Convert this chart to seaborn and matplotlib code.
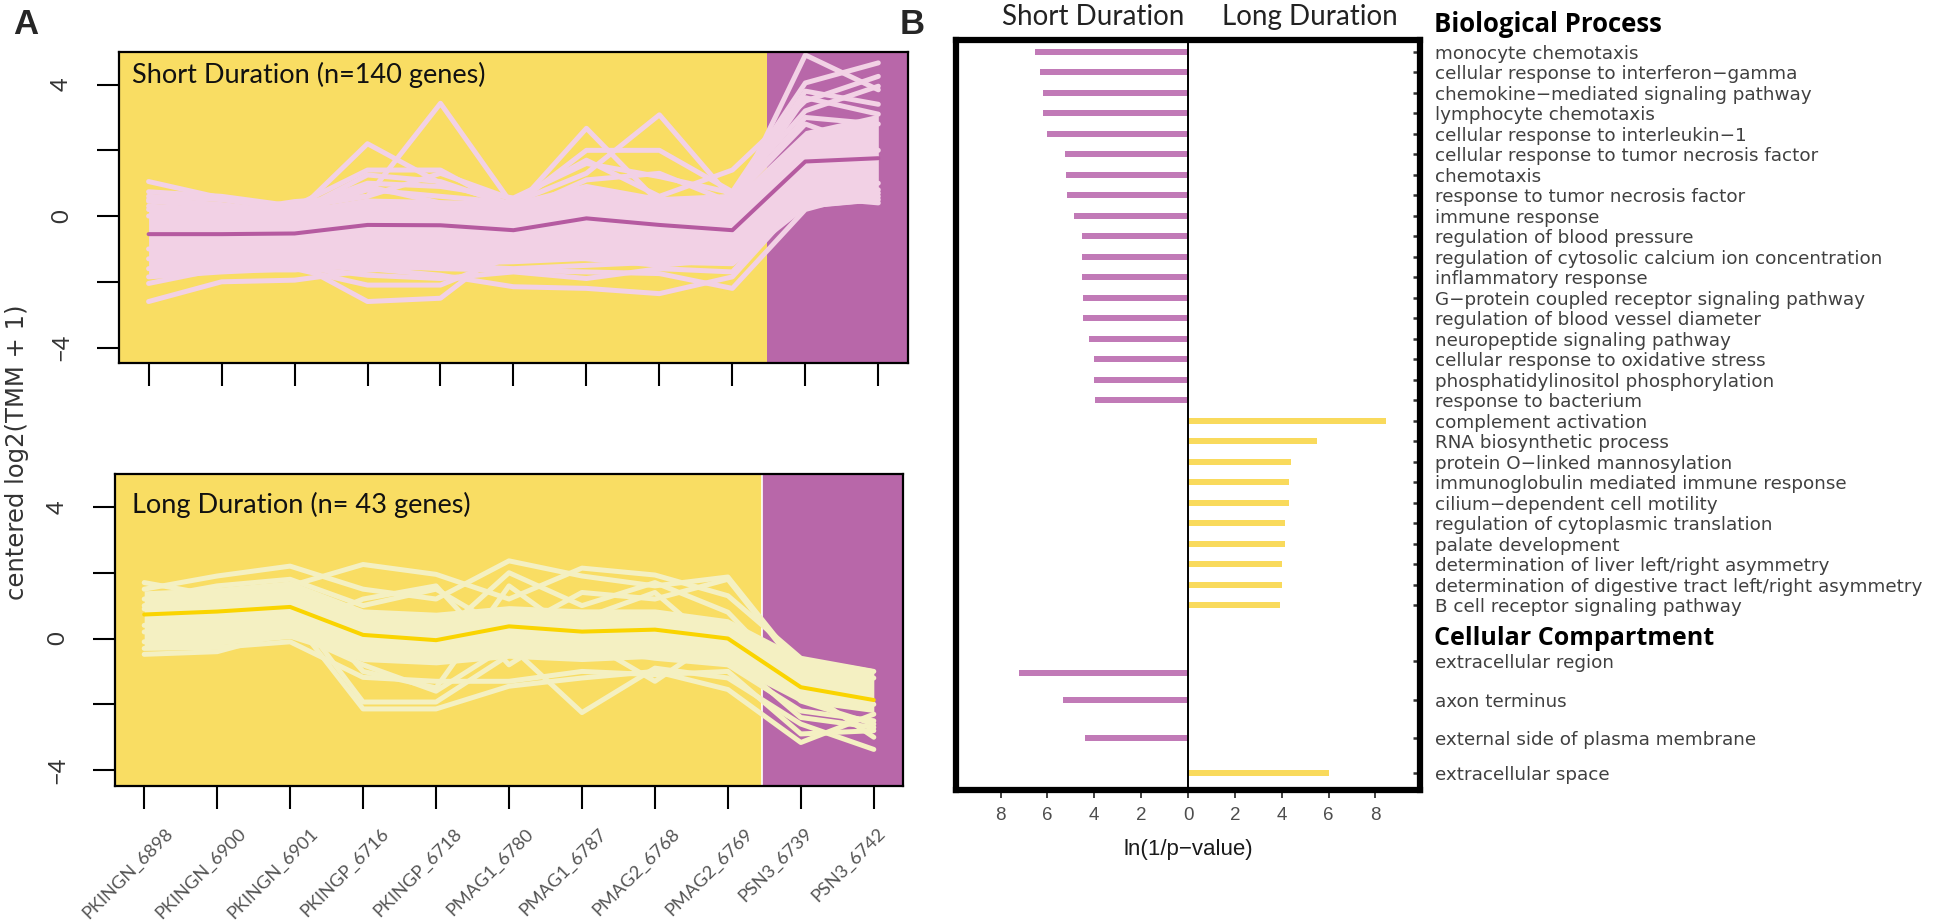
import matplotlib
matplotlib.use("Agg")
import matplotlib.pyplot as plt
from matplotlib.transforms import ScaledTranslation, blended_transform_factory
import numpy as np
import pandas as pd
import seaborn as sns

# ---------------- data : panel A ----------------
samples = ["PKINGN_6898", "PKINGN_6900", "PKINGN_6901", "PKINGP_6716", "PKINGP_6718",
           "PMAG1_6780", "PMAG1_6787", "PMAG2_6768", "PMAG2_6769", "PSN3_6739", "PSN3_6742"]

short_title = "Short Duration (n=140 genes)"
long_title = "Long Duration (n= 43 genes)"

short_mean = [-0.55, -0.55, -0.53, -0.27, -0.28, -0.43, -0.07, -0.27, -0.43, 1.66, 1.76]
short_band_hi = [0.30, 0.25, 0.20, 0.55, 0.50, 0.45, 0.85, 0.60, 0.50, 2.60, 3.10]
short_band_lo = [-1.80, -1.70, -1.70, -1.50, -1.50, -1.45, -1.35, -1.40, -1.40, 0.25, 0.45]
short_g01 = [1.05, 0.55, 0.25, 0.60, 3.43, 0.30, 0.50, 0.45, 0.50, 3.00, 2.80]
short_g02 = [0.30, 0.20, 0.05, 2.20, 1.00, 0.35, 0.90, 0.50, 0.60, 3.80, 3.40]
short_g03 = [0.74, 0.60, 0.30, 1.40, 1.40, 0.20, 2.67, 0.40, 0.30, 4.90, 3.84]
short_g04 = [0.00, 0.30, 0.10, 0.80, 0.60, 0.40, 1.30, 3.08, 0.50, 2.80, 2.00]
short_g05 = [0.50, 0.35, 0.10, 1.25, 1.05, 0.30, 2.00, 2.00, 0.74, 4.05, 4.66]
short_g06 = [0.20, 0.10, 0.44, 0.60, 1.30, 0.50, 1.70, 0.60, 1.40, 3.50, 4.25]
short_g07 = [0.60, 0.50, 0.20, 1.00, 0.90, 0.55, 1.60, 1.20, 0.70, 3.20, 3.95]
short_g08 = [-2.60, -2.00, -1.95, -1.65, -1.50, -1.60, -1.50, -1.40, -1.45, 0.30, 0.50]
short_g09 = [-1.85, -1.70, -1.60, -2.10, -2.10, -1.20, -1.30, -1.50, -1.30, 0.50, 0.70]
short_g10 = [-1.60, -1.50, -1.40, -2.60, -2.50, -0.80, -1.00, -1.20, -1.30, 0.40, 0.60]
short_g11 = [-1.30, -1.40, -1.50, -1.60, -1.80, -2.15, -2.20, -2.36, -1.85, 0.60, 0.40]
short_g12 = [-1.00, -1.20, -1.30, -1.50, -1.60, -1.65, -1.70, -1.75, -2.20, 0.20, 0.80]
short_g13 = [-2.05, -1.60, -1.55, -1.80, -1.90, -1.70, -1.90, -1.60, -1.70, 0.70, 1.00]
short_g14 = [0.45, 0.30, 0.00, 0.90, 0.40, 0.10, 1.10, 1.30, 0.40, 3.60, 3.10]

long_mean = [0.73, 0.82, 0.96, 0.11, -0.05, 0.37, 0.21, 0.27, 0.00, -1.48, -1.87]
long_band_hi = [1.45, 1.55, 1.75, 0.90, 0.80, 1.00, 0.90, 0.90, 0.60, -0.55, -0.92]
long_band_lo = [-0.30, -0.20, 0.00, -0.70, -0.80, -0.60, -0.70, -0.60, -0.80, -1.95, -2.25]
long_g01 = [1.50, 1.90, 2.20, 1.50, 1.20, 2.36, 1.90, 1.60, 1.87, -0.90, -1.20]
long_g02 = [1.70, 1.30, 1.60, 2.25, 1.95, 1.20, 2.14, 1.93, 1.30, -0.60, -1.00]
long_g03 = [0.40, 0.60, 1.00, -1.93, -1.93, -0.50, -0.30, -0.60, -0.80, -2.20, -2.50]
long_g04 = [0.20, 0.30, 0.70, -2.14, -2.14, -1.45, -1.20, -1.00, -1.55, -3.16, -2.30]
long_g05 = [-0.48, -0.40, 0.20, -0.80, -1.60, -0.20, -2.25, -0.90, -1.20, -2.60, -3.37]
long_g06 = [-0.30, -0.27, -0.10, -1.18, -1.30, -1.30, -1.00, -1.10, -1.00, -2.90, -2.80]
long_g07 = [1.20, 1.60, 1.80, 1.00, 1.50, 0.20, 1.40, 1.20, 1.80, -1.00, -2.00]
long_g08 = [0.90, 1.00, 1.40, 0.50, 0.00, 2.00, 1.00, 1.70, 0.80, -1.50, -3.00]
long_g09 = [1.00, 1.20, 1.50, -1.00, -1.50, 1.60, 0.00, -1.30, 0.20, -1.90, -2.60]
long_g10 = [-0.10, 0.10, 0.30, 1.20, 1.60, -0.80, 0.60, 1.40, -0.50, -2.40, -2.70]

# ---------------- data : panel B ----------------
bp_short_terms = ["monocyte chemotaxis", "cellular response to interferon\u2212gamma",
                  "chemokine\u2212mediated signaling pathway", "lymphocyte chemotaxis",
                  "cellular response to interleukin\u22121", "cellular response to tumor necrosis factor",
                  "chemotaxis", "response to tumor necrosis factor", "immune response",
                  "regulation of blood pressure", "regulation of cytosolic calcium ion concentration",
                  "inflammatory response", "G\u2212protein coupled receptor signaling pathway",
                  "regulation of blood vessel diameter", "neuropeptide signaling pathway",
                  "cellular response to oxidative stress", "phosphatidylinositol phosphorylation",
                  "response to bacterium"]
bp_short_vals = [6.51, 6.32, 6.19, 6.19, 6.00, 5.24, 5.21, 5.16, 4.88, 4.53, 4.53, 4.53,
                 4.50, 4.48, 4.21, 4.02, 3.99, 3.96]
bp_long_terms = ["complement activation", "RNA biosynthetic process", "protein O\u2212linked mannosylation",
                 "immunoglobulin mediated immune response", "cilium\u2212dependent cell motility",
                 "regulation of cytoplasmic translation", "palate development",
                 "determination of liver left/right asymmetry",
                 "determination of digestive tract left/right asymmetry",
                 "B cell receptor signaling pathway"]
bp_long_vals = [8.44, 5.51, 4.40, 4.31, 4.31, 4.12, 4.12, 3.99, 3.99, 3.93]
cc_terms = ["extracellular region", "axon terminus", "external side of plasma membrane", "extracellular space"]
cc_vals = [7.22, 5.32, 4.40, 6.02]
cc_groups = ["Short", "Short", "Short", "Long"]
xticks_b = [-8, -6, -4, -2, 0, 2, 4, 6, 8]

# ---------------- styling ----------------
PINK = "#F2D1E5"
PURPLE_BG = "#B867A9"
YELLOW_BG = "#F9DD63"
CREAM = "#F4F0C2"
MEAN_PURPLE = "#B55AA0"
MEAN_YELLOW = "#FAD400"
BAR_PURPLE = "#C17AB7"
BAR_YELLOW = "#F9DA5C"

sns.set_style("white")
LATO = ["Lato", "DejaVu Sans"]
OPEN = ["Open Sans", "DejaVu Sans"]
SANS = ["Liberation Sans", "DejaVu Sans"]
WIDE = ["DejaVu Sans"]
NARROW = ["Liberation Sans Narrow", "Liberation Sans", "DejaVu Sans"]
plt.rcParams["font.family"] = SANS

W, H = 1946, 922
fig = plt.figure(figsize=(W / 100, H / 100), dpi=100)


def rect(l, t, r, b):
    return [l / W, 1 - b / H, (r - l) / W, (b - t) / H]


axA1 = fig.add_axes(rect(119.4, 51.7, 907.5, 363))
axA2 = fig.add_axes(rect(115, 474, 903, 785.6))
axB = fig.add_axes(rect(956, 40, 1420, 790))


def draw_panel(ax, genes, band_lo, band_hi, mean, line_color, mean_color, title, tx, ty, show_labels):
    x = np.arange(len(samples))
    ax.set_facecolor(YELLOW_BG)
    ax.axvspan(8.47, 10.6, color=PURPLE_BG, lw=0, zorder=0)
    ax.fill_between(x, band_lo, band_hi, color=line_color, lw=0, zorder=1)
    rows = [(f"g{i}", j, v) for i, g in enumerate(genes) for j, v in enumerate(g)]
    df = pd.DataFrame(rows, columns=["gene", "x", "value"])
    sns.lineplot(data=df, x="x", y="value", units="gene", estimator=None, color=line_color,
                 lw=3.6, ax=ax, legend=False, zorder=2)
    sns.lineplot(x=x, y=mean, color=mean_color, lw=2.9, ax=ax, zorder=3)
    ax.set_xlim(-0.4, 10.4)
    ax.set_ylim(-4.47, 5.0)
    ax.set_xlabel("")
    ax.set_ylabel("")
    ax.set_xticks(x)
    if show_labels:
        ax.set_xticklabels(samples)
    else:
        ax.set_xticklabels([])
    ax.tick_params(axis="x", length=16.5, width=1.5, direction="out", pad=12,
                   labelsize=13.2, labelcolor="#555555", color="black", bottom=True)
    ax.set_yticks([-4, -2, 0, 2, 4])
    ax.set_yticklabels(["\u22124", "", "0", "", "4"])
    ax.tick_params(axis="y", length=16, width=1.5, direction="out", pad=18,
                   labelsize=17, labelcolor="#333333", color="black", left=True)
    for lab in ax.get_yticklabels():
        lab.set_rotation(90)
        lab.set_va("center")
        lab.set_family(LATO)
    off = ScaledTranslation(-0.65, 0, fig.dpi_scale_trans)
    for lab in ax.get_xticklabels():
        lab.set_rotation(45)
        lab.set_ha("left")
        lab.set_va("top")
        lab.set_family(LATO)
        lab.set_transform(lab.get_transform() + off)
    for s in ax.spines.values():
        s.set_linewidth(1.6)
        s.set_color("black")
        s.set_visible(True)
    ax.text(tx, ty, title, transform=ax.transAxes, fontsize=19.5, family=LATO,
            ha="left", va="baseline", color="#111111", zorder=5)


short_genes = [short_g01, short_g02, short_g03, short_g04, short_g05, short_g06, short_g07,
               short_g08, short_g09, short_g10, short_g11, short_g12, short_g13, short_g14]
long_genes = [long_g01, long_g02, long_g03, long_g04, long_g05, long_g06, long_g07,
              long_g08, long_g09, long_g10]

draw_panel(axA1, short_genes, short_band_lo, short_band_hi, short_mean, PINK, MEAN_PURPLE,
           short_title, 0.0155, 0.899, False)
draw_panel(axA2, long_genes, long_band_lo, long_band_hi, long_mean, CREAM, MEAN_YELLOW,
           long_title, 0.021, 0.875, True)
axA2.axvline(8.47, color="white", lw=1.2, zorder=0.5)

fig.text(17 / W, 1 - 452 / H, "centered log2(TMM + 1)", rotation=90, ha="center", va="center",
         fontsize=17.5, family=WIDE, color="#333333")

# ---------------- panel B ----------------
bp_terms = bp_short_terms + bp_long_terms
bp_pos = list(range(len(bp_terms)))
cc_tick_pos = [29.72, 31.6, 33.46, 35.17]
cc_bar_pos = [30.3, 31.6, 33.46, 35.17]

bar_rows = []
for p, v in zip(bp_pos[:len(bp_short_vals)], bp_short_vals):
    bar_rows.append((p, -v, "Short"))
for p, v in zip(bp_pos[len(bp_short_vals):], bp_long_vals):
    bar_rows.append((p, v, "Long"))
for p, v, g in zip(cc_bar_pos, cc_vals, cc_groups):
    bar_rows.append((p, -v if g == "Short" else v, g))
bars = pd.DataFrame(bar_rows, columns=["pos", "signed", "group"])

for grp, col in [("Short", BAR_PURPLE), ("Long", BAR_YELLOW)]:
    sns.barplot(data=bars[bars["group"] == grp], x="signed", y="pos", orient="y", native_scale=True,
                color=col, saturation=1, width=0.29, errorbar=None, linewidth=0, ax=axB)

axB.axvline(0, color="black", lw=1.4, zorder=3)
axB.set_xlim(-9.9, 9.9)
axB.set_ylim(36.0, -0.57)
axB.set_xlabel("")
axB.set_ylabel("")
axB.set_xticks(xticks_b)
axB.set_xticklabels([str(abs(t)) for t in xticks_b])
axB.tick_params(axis="x", direction="out", length=6, width=1.3, pad=6, labelsize=13.5,
                labelcolor="#4d4d4d", color="#333333", bottom=True)
axB.yaxis.tick_right()
axB.set_yticks(bp_pos + cc_tick_pos)
axB.set_yticklabels(bp_terms + cc_terms)
axB.tick_params(axis="y", direction="in", length=5, width=1.8, pad=10.5, labelsize=13.2,
                labelcolor="#404040", color="#333333", right=True, left=False)
for lab in axB.get_yticklabels():
    lab.set_family(WIDE)
for s in axB.spines.values():
    s.set_linewidth(4.5)
    s.set_color("black")
    s.set_visible(True)

tB = blended_transform_factory(axB.transAxes, axB.transData)
axB.text(1.031, -1.32, "Biological Process", transform=tB, fontsize=18.5, family=OPEN,
         fontweight="bold", ha="left", va="center", color="black", clip_on=False)
axB.text(1.031, 28.6, "Cellular Compartment", transform=tB, fontsize=18, family=OPEN,
         fontweight="bold", ha="left", va="center", color="black", clip_on=False)

tF = blended_transform_factory(axB.transData, fig.transFigure)
axB.text(-4.06, 1 - 25 / H, "Short Duration", transform=tF, fontsize=20, family=LATO,
         ha="center", va="baseline", color="#222222", clip_on=False)
axB.text(5.21, 1 - 25 / H, "Long Duration", transform=tF, fontsize=20, family=LATO,
         ha="center", va="baseline", color="#222222", clip_on=False)
axB.text(0, 1 - 849 / H, "ln(1/p\u2212value)", transform=tF, fontsize=16, family=SANS,
         ha="center", va="center", color="#1a1a1a", clip_on=False)

fig.text(13.5 / W, 1 - 8 / H, "A", fontsize=25, family=NARROW, fontweight="bold", ha="left", va="top")
fig.text(900 / W, 1 - 8 / H, "B", fontsize=25, family=NARROW, fontweight="bold", ha="left", va="top")

fig.savefig("out.png", dpi=100)
